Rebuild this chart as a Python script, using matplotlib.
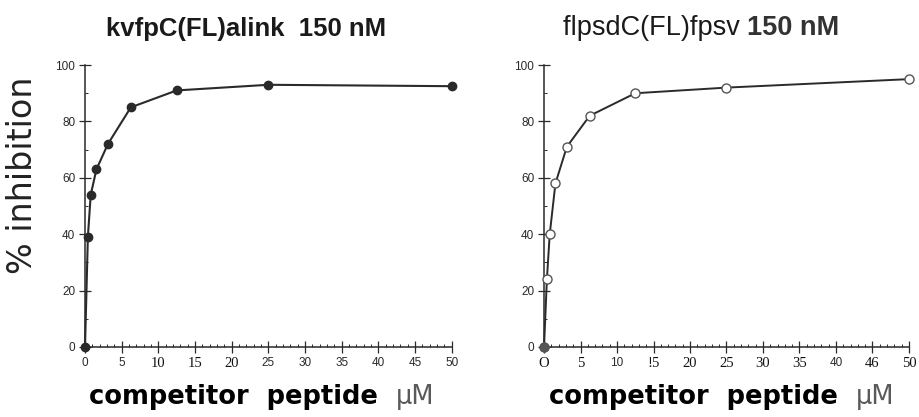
import matplotlib
matplotlib.use("Agg")
import matplotlib.pyplot as plt
from matplotlib.ticker import MultipleLocator

# ── Data ─────────────────────────────────────────────────────────────────────

conc_um = [0, 0.39, 0.78, 1.56, 3.125, 6.25, 12.5, 25, 50]
inhib_kvfp = [0, 39, 54, 63, 72, 85, 91, 93, 92.5]
inhib_flps = [0, 24, 40, 58, 71, 82, 90, 92, 95]

xtick_vals = [0, 5, 10, 15, 20, 25, 30, 35, 40, 45, 50]
xtick_labels_left = ["0", "5", "10", "15", "20", "25", "30", "35", "40", "45", "50"]
xtick_labels_right = ["O", "5", "10", "!5", "20", "25", "30", "35", "40", "46", "50"]
ytick_vals = [0, 20, 40, 60, 80, 100]

# labels that were printed in a serif face in the original scan
SERIF_LEFT = {2, 3, 4}
SERIF_RIGHT = {0, 1, 3, 4, 5, 6, 7, 9, 10}

INK = "#2a2a2a"
SANS = ["Liberation Sans", "DejaVu Sans"]
SERIF = ["Liberation Serif", "DejaVu Serif"]


def style_axes(ax, labels, serif_idx):
    ax.set_xlim(0, 50)
    ax.set_ylim(0, 100)
    for s in ("top", "right"):
        ax.spines[s].set_visible(False)
    for s in ("left", "bottom"):
        ax.spines[s].set_color(INK)
        ax.spines[s].set_linewidth(1.1)
    ax.set_xticks(xtick_vals)
    ax.set_yticks(ytick_vals)
    ax.xaxis.set_minor_locator(MultipleLocator(1))
    ax.yaxis.set_minor_locator(MultipleLocator(10))
    ax.tick_params(which="major", direction="inout", length=8, width=0.9,
                   color=INK, labelcolor=INK, pad=3, labelsize=8.5)
    ax.tick_params(axis="x", labelbottom=False)
    ax.tick_params(which="minor", direction="in", length=2.5, width=0.7, color=INK)
    for lbl in ax.get_yticklabels():
        lbl.set_fontfamily(SANS)
    # x tick labels drawn by hand: the scan mixes a serif and a sans face
    for i, (v, s) in enumerate(zip(xtick_vals, labels)):
        serif = i in serif_idx
        ax.annotate(s, xy=(v, 0), xycoords=("data", "axes fraction"),
                    xytext=(0, -7.5), textcoords="offset points",
                    ha="center", va="top",
                    color="#111111" if serif else INK,
                    family=SERIF if serif else SANS,
                    fontsize=10.5 if serif else 8.5)


def xlabel_two_tone(fig, renderer, xc, y):
    main = fig.text(0, y, "competitor  peptide  ", fontsize=18.5, fontweight="bold",
                    family="DejaVu Sans", color="black", va="baseline", ha="left")
    unit = fig.text(0, y, "\u00b5M", fontsize=18.5, family="DejaVu Sans",
                    color="#5a5a5a", va="baseline", ha="left")
    w1 = main.get_window_extent(renderer).width / fig.bbox.width
    w2 = unit.get_window_extent(renderer).width / fig.bbox.width
    x0 = xc - (w1 + w2) / 2
    main.set_x(x0)
    unit.set_x(x0 + w1)


fig = plt.figure(figsize=(9.19, 4.17), dpi=100)
ax1 = fig.add_axes([0.0925, 0.168, 0.399, 0.676])
ax2 = fig.add_axes([0.592, 0.168, 0.397, 0.676])

ax1.plot(conc_um, inhib_kvfp, color=INK, lw=1.5, marker="o", ms=6,
         mfc=INK, mec=INK, clip_on=False, zorder=3)
ax2.plot(conc_um, inhib_flps, color=INK, lw=1.4, marker="o", ms=6.5,
         mfc="white", mec="#555555", mew=1.0, clip_on=False, zorder=3)
ax2.plot(conc_um[:1], inhib_flps[:1], "o", ms=6, color="#555555",
         clip_on=False, zorder=4)

style_axes(ax1, xtick_labels_left, SERIF_LEFT)
style_axes(ax2, xtick_labels_right, SERIF_RIGHT)

# titles
fig.text(0.268, 0.93, "kvfpC(FL)alink  150 nM", fontsize=18.5, fontweight="bold",
         family=SANS, ha="center", va="center", color="#1a1a1a")
renderer = fig.canvas.get_renderer()
t_a = fig.text(0, 0.932, "flpsdC(FL)fpsv ", fontsize=19.5, family=SANS,
               ha="left", va="center", color="#1a1a1a")
t_b = fig.text(0, 0.932, "150 nM", fontsize=19.5, fontweight="bold", family=SANS,
               ha="left", va="center", color="#333333")
wa = t_a.get_window_extent(renderer).width / fig.bbox.width
wb = t_b.get_window_extent(renderer).width / fig.bbox.width
x0 = 0.763 - (wa + wb) / 2
t_a.set_x(x0)
t_b.set_x(x0 + wa)

# y label
fig.text(0.024, 0.58, "% inhibition", fontsize=24, rotation=90,
         family="DejaVu Sans", ha="center", va="center", color="#222222")

# baseline about 11 px above the bottom edge so the descenders stay inside
xlabel_two_tone(fig, renderer, 0.285, 0.03)
xlabel_two_tone(fig, renderer, 0.785, 0.03)

fig.savefig("out.png", dpi=100)
